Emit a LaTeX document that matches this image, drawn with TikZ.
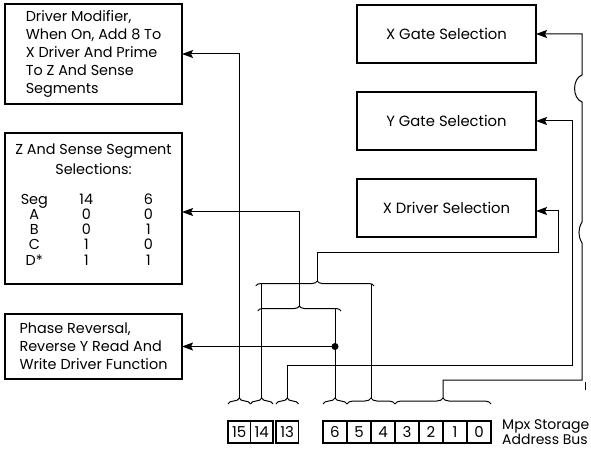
\documentclass[tikz,border=0pt]{standalone}
\usepackage{fontspec}
\setmainfont{Poppins}
\usepackage{array}
\usetikzlibrary{positioning,calc,arrows.meta,decorations.pathreplacing}
\newcolumntype{C}[1]{>{\centering\arraybackslash}p{#1}}
\tikzset{
  panel/.style={draw, line width=1.8pt, minimum width=177pt, inner sep=0pt, outer sep=0pt,
    font=\fontsize{14.4pt}{18pt}\selectfont, align=left},
  gate/.style={draw, line width=1.8pt, minimum width=179pt, minimum height=58pt, inner sep=0pt,
    outer sep=0pt, font=\fontsize{14.8pt}{18pt}\selectfont, align=center},
  bit/.style={draw, line width=1.4pt, minimum width=24pt, minimum height=22pt, inner sep=0pt,
    outer sep=0pt, font=\fontsize{15pt}{18pt}\selectfont},
  wire/.style={line width=1pt},
  feed/.style={line width=1pt, -{Stealth[length=11pt,width=8pt,inset=2pt]}},
  fieldbrace/.style={line width=1pt, decorate, decoration={brace, amplitude=6pt}},
}

\begin{document}
\begin{tikzpicture}[x=1pt, y=1pt]
  \useasboundingbox (0,0) rectangle (591,450);
  \node[panel, minimum height=100pt] (mod) at (93.5,396) {Driver Modifier,\\When On, Add 8 To\\X Driver And Prime\\To Z And Sense\\Segments};
  \node[panel, minimum height=151pt, below=29pt of mod] (seg) {\fontsize{14.4pt}{15pt}\selectfont
    \begin{tabular}{@{\hspace{10pt}}C{30pt}@{\hspace{22pt}}C{30pt}@{\hspace{27pt}}C{40pt}@{}}
      \multicolumn{3}{c}{Z And Sense Segment}\\[5pt]
      \multicolumn{3}{c}{Selections:}\\[15pt]
      Seg & 14 & 6\\
      A & 0 & 0\\
      B & 0 & 1\\
      C & 1 & 0\\
      D* & 1 & 1\\[4pt]
    \end{tabular}};
  \node[panel, minimum height=65pt, below=30pt of seg] (phase) {Phase Reversal,\\Reverse Y Read And\\Write Driver Function};

  \node[gate] (xgate) at (446.5,416) {X Gate Selection};
  \node[gate, below=29pt of xgate] (ygate) {Y Gate Selection};
  \node[gate, below=29pt of ygate] (xdrv) {X Driver Selection};

  \node[bit, minimum width=22.5pt] (b15) at (239.25,18) {15};
  \node[bit, minimum width=22.5pt, right=0pt of b15] (b14) {14};
  \node[bit, minimum width=22.5pt, right=3pt of b14] (b13) {13};
  \node[bit] (b6) at (335,18) {6};
  \node[bit, right=0pt of b6] (b5) {5};
  \node[bit, right=0pt of b5] (b4) {4};
  \node[bit, right=0pt of b4] (b3) {3};
  \node[bit, right=0pt of b3] (b2) {2};
  \node[bit, right=0pt of b2] (b1) {1};
  \node[bit, right=0pt of b1] (b0) {0};
  \node[right=11pt of b0, inner sep=0pt, align=left, font=\fontsize{14pt}{15pt}\selectfont] (bus) {Mpx Storage\\Address Bus};

  \foreach \lo/\hi/\f in {b15/b15/f15, b14/b14/f14, b13/b13/f13, b6/b6/f6, b5/b4/f54, b3/b0/f30}
    \draw[fieldbrace] ([yshift=17pt]\lo.north west) -- ([yshift=17pt]\hi.north east)
      coordinate[midway, yshift=6pt] (\f);

  \draw[fieldbrace, decoration={amplitude=5pt, aspect=0.52}] ([shift={(-6,112)}]f14) -- ([shift={(3,112)}]f54)
    coordinate[pos=0.52, yshift=5pt] (xsel);
  \draw[fieldbrace, decoration={amplitude=5pt}] ([shift={(-4,87)}]f14) -- ([shift={(6,87)}]f6)
    coordinate[midway, yshift=5pt] (zsel);

  \draw[wire] (f14) -- ++(0,114);
  \draw[wire] (f54) -- ++(0,114);
  \draw[wire] (f6) -- ++(0,89);
  \coordinate (pdot) at (f6 |- phase.east);
  \fill (pdot) circle (3.5pt);

  \draw[feed] (pdot) -- (phase.east);
  \draw[feed] (f15) |- (mod.east);
  \draw[feed] (zsel) |- ([yshift=-3.5pt]seg.east);
  \draw[feed] (xsel) -- ++(0,28) -| ([xshift=22pt,yshift=-3pt]xdrv.east) -- ([yshift=-3pt]xdrv.east);
  \draw[feed] (f13) -- ++(0,33) -| ([xshift=36pt]ygate.east) -- (ygate.east);
  \draw[feed] (f30) -- ++(0,18) -- ++(139,0) -- ++(0,137) to[bend left=30] ++(0,21) -- ++(0,120)
    to[bend left=70] ++(0,27) |- (xgate.east);
  \draw[wire] ($(f30)+(142,8)$) -- ++(0,8);
\end{tikzpicture}
\end{document}
